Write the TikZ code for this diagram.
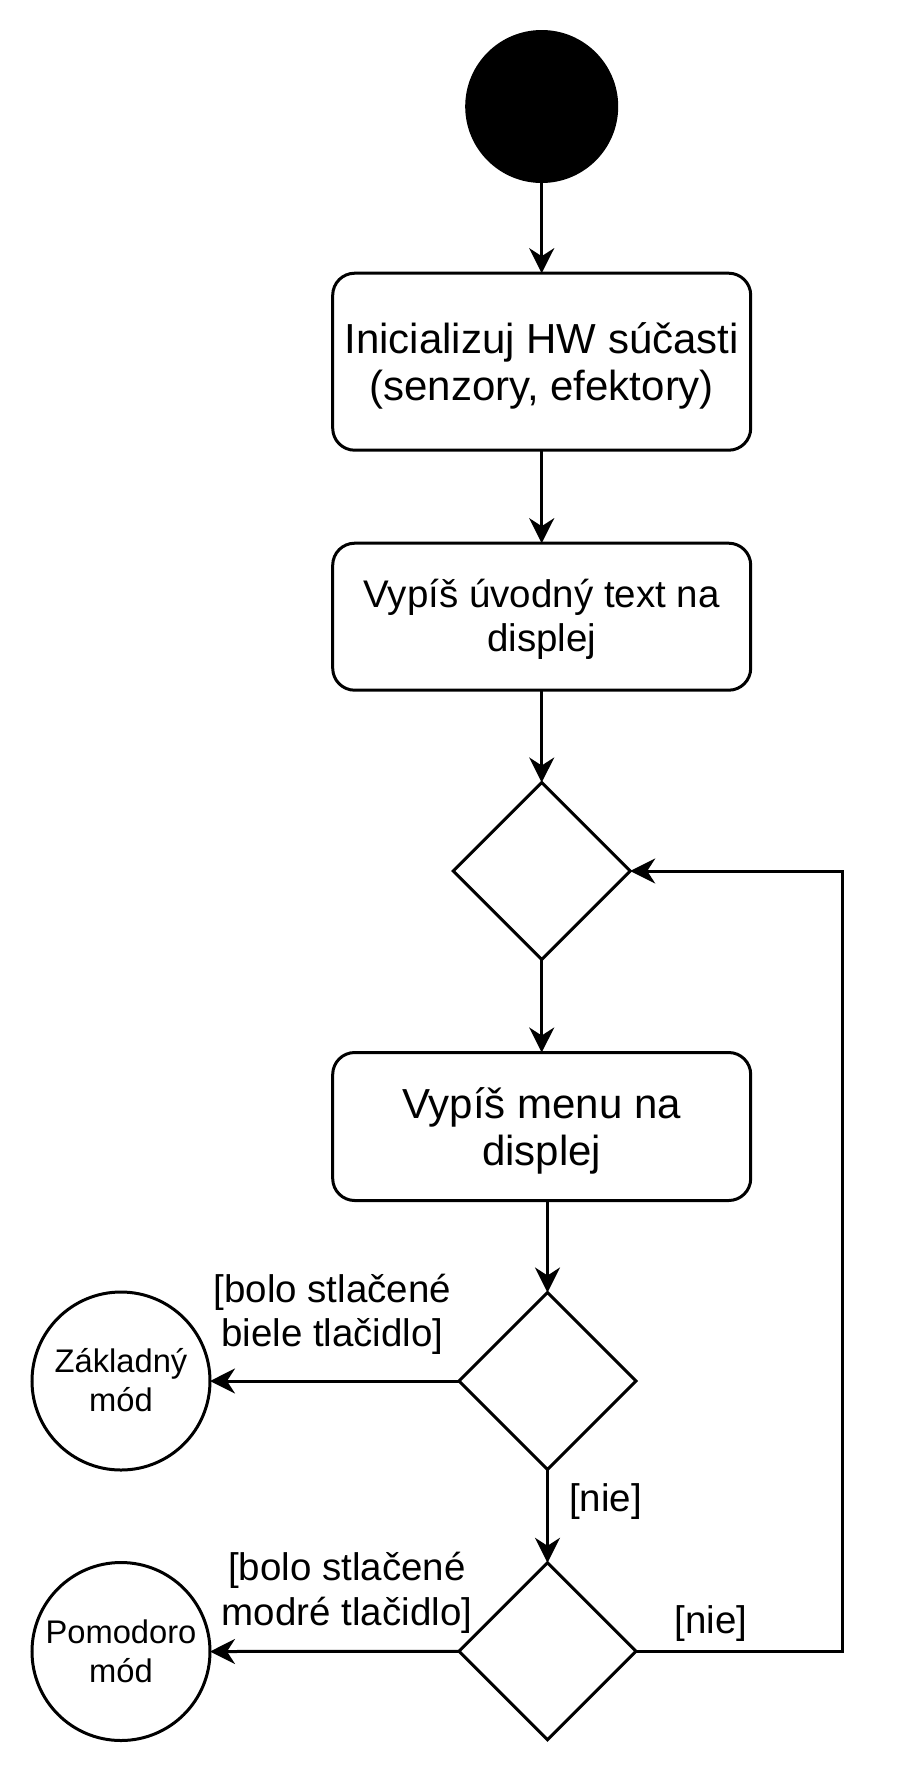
\documentclass[tikz,border=0pt]{standalone}
\usepackage{fontspec}
\setmainfont{Liberation Sans}
\usetikzlibrary{shapes.geometric,arrows.meta}
\tikzset{
  every node/.style={inner sep=0pt, outer sep=0pt},
  ln/.style={line width=3pt},
  arr/.style={ln, -{Stealth[length=25pt,width=25pt,inset=8pt]}},
  boxnode/.style={draw, ln, rounded corners=22pt, minimum width=418pt, align=center},
  dia/.style={draw, ln, diamond, minimum width=177pt, minimum height=177pt},
  endcirc/.style={draw, ln, circle, minimum size=178pt, align=center,
    font=\fontsize{32.7}{38.7}\selectfont, text height=61pt, text depth=0pt},
  big/.style={font=\fontsize{42}{47}\selectfont, text depth=0pt},
  mid/.style={font=\fontsize{38.5}{44}\selectfont, text height=70pt, text depth=0pt},
  lbl/.style={align=center, font=\fontsize{38.5}{44.7}\selectfont, text height=60pt, text depth=0pt},
  lblone/.style={font=\fontsize{38.5}{44.7}\selectfont, anchor=base west}
}
\begin{document}
\begin{tikzpicture}[x=1pt,y=-1pt]
\useasboundingbox (0,0) rectangle (897,1773);
\node[circle, fill=black, minimum size=153pt] (start) at (541.7,106.5) {};
\node[boxnode, big, text height=78pt, minimum height=177pt] (b1) at (541.7,361.7) {Inicializuj HW súčasti\\(senzory, efektory)};
\node[boxnode, mid, minimum height=147pt] (b2) at (541.7,616.7) {Vypíš úvodný text na\\displej};
\node[dia] (d1) at (541.7,871) {};
\node[boxnode, big, text height=77.4pt, minimum height=148pt] (b3) at (541.7,1126.5) {Vypíš menu na\\displej};
\node[dia] (d2) at (547.5,1381) {};
\node[dia] (d3) at (547.5,1651.3) {};
\node[endcirc] (z) at (121,1381) {Základný\\mód};
\node[endcirc] (p) at (121,1651.5) {Pomodoro\\mód};
\node[lbl] (l1) at (332.4,1316.7) {[bolo stlačené\\biele tlačidlo]};
\node[lbl] (l2) at (347,1595) {[bolo stlačené\\modré tlačidlo]};
\node[lblone] (n1) at (569,1511.7) {[nie]};
\node[lblone] (n2) at (674.7,1633.3) {[nie]};
\coordinate (c2) at (842,871);
\draw[arr] (start.south) -- (b1.north);
\draw[arr] (b1.south) -- (b2.north);
\draw[arr] (b2.south) -- (d1.north);
\draw[arr] (d1.south) -- (b3.north);
\draw[arr] (b3.south -| d2.north) -- (d2.north);
\draw[arr] (d2.west) -- (z.east);
\draw[arr] (d2.south) -- (d3.north);
\draw[arr] (d3.west) -- (p.east);
\draw[arr] (d3.east) -- (d3.east -| c2) -- (c2) -- (d1.east);
\end{tikzpicture}
\end{document}
